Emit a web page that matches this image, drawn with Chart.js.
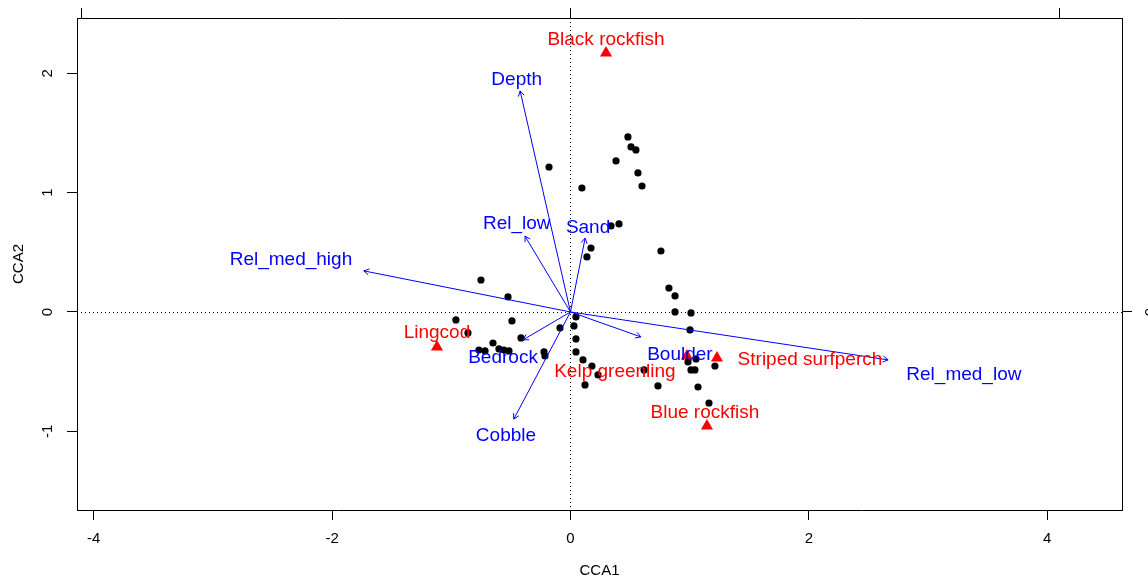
<!DOCTYPE html>
<html>
<head>
<meta charset="utf-8">
<script src="https://cdn.jsdelivr.net/npm/chart.js@4.4.1/dist/chart.umd.min.js"></script>
<style>
  html, body { margin: 0; padding: 0; background: #fff; }
  #wrap { width: 1148px; height: 578px; }
</style>
</head>
<body>
<div id="wrap"><canvas id="ccaChart"></canvas></div>
<script>
// site scores (CCA1, CCA2)
const sitesX = [-0.180, 0.482, 0.508, 0.549, 0.382, 0.566, 0.600, 0.096, 0.340, 0.407,
                0.172, 0.138, 0.759, 0.826, 0.877, 0.877, 1.011, 0.046, -0.751, -0.524,
                -0.491, -0.961, -0.860, -0.415, -0.650, -0.768, -0.717, -0.600, -0.558, -0.516,
                -0.222, -0.214, -0.088, 0.029, 0.046, 0.046, 0.105, 0.180, 0.231, 0.122,
                0.617, 0.734, 1.003, 0.986, 1.053, 1.011, 1.044, 1.212, 1.070, 1.162];
const sitesY = [1.215, 1.467, 1.383, 1.358, 1.266, 1.165, 1.056, 1.039, 0.721, 0.738,
                0.536, 0.461, 0.511, 0.201, 0.134, 0.000, -0.008, -0.042, 0.268, 0.126,
                -0.075, -0.067, -0.176, -0.218, -0.260, -0.319, -0.327, -0.310, -0.319, -0.327,
                -0.335, -0.369, -0.134, -0.117, -0.226, -0.335, -0.402, -0.453, -0.528, -0.612,
                -0.486, -0.620, -0.151, -0.419, -0.394, -0.486, -0.486, -0.453, -0.629, -0.763];

// species scores and where their names sit
const speciesNames = ['Black rockfish', 'Lingcod', 'Kelp greenling', 'Striped surfperch', 'Blue rockfish'];
const speciesX = [0.298, -1.120, 0.977, 1.229, 1.145];
const speciesY = [2.171, -0.293, -0.369, -0.386, -0.956];
const speciesLabelX = [0.298, -1.120, 0.373, 2.009, 1.128];
const speciesLabelY = [2.297, -0.159, -0.486, -0.386, -0.830];

// biplot arrows (environmental variables), in biplot units
const envNames = ['Depth', 'Rel_low', 'Sand', 'Rel_med_high', 'Rel_med_low', 'Boulder', 'Bedrock', 'Cobble'];
const envX = [-0.103, -0.093, 0.030, -0.423, 0.650, 0.144, -0.097, -0.116];
const envY = [0.452, 0.155, 0.151, 0.084, -0.098, -0.051, -0.057, -0.219];
const envLabelX = [-0.110, -0.110, 0.036, -0.572, 0.805, 0.224, -0.138, -0.132];
const envLabelY = [0.479, 0.184, 0.176, 0.110, -0.125, -0.084, -0.090, -0.250];

const xTicks = [-4, -2, 0, 2, 4];
const yTicks = [-1, 0, 1, 2];
const biplotTicks = [-1, 0, 1];

const xMin = -4.14, xMax = 4.627;
const yMin = -1.66, yMax = 2.464;
const arrowMul = 4.1;

Chart.defaults.font.family = '"Liberation Sans", Arial, sans-serif';
Chart.defaults.color = '#000';

function fixedTicks(list) {
    return function (scale) {
        scale.ticks = list.filter(v => v >= scale.min && v <= scale.max).map(v => ({ value: v }));
    };
}

function drawArrow(ctx, x0, y0, x1, y1, head) {
    const ang = Math.atan2(y1 - y0, x1 - x0);
    ctx.beginPath();
    ctx.moveTo(x0, y0);
    ctx.lineTo(x1, y1);
    ctx.moveTo(x1 - head * Math.cos(ang - Math.PI / 6), y1 - head * Math.sin(ang - Math.PI / 6));
    ctx.lineTo(x1, y1);
    ctx.lineTo(x1 - head * Math.cos(ang + Math.PI / 6), y1 - head * Math.sin(ang + Math.PI / 6));
    ctx.stroke();
}

const ccaOverlay = {
    id: 'ccaOverlay',
    beforeDatasetsDraw(chart) {
        const { ctx, chartArea: a, scales: { x, y } } = chart;
        const x0 = Math.round(x.getPixelForValue(0)) + 0.5;
        const y0 = Math.round(y.getPixelForValue(0)) + 0.5;
        ctx.save();
        ctx.strokeStyle = '#000';
        ctx.lineWidth = 1;
        ctx.setLineDash([1, 3]);
        ctx.beginPath();
        ctx.moveTo(x0, a.top);
        ctx.lineTo(x0, a.bottom);
        ctx.moveTo(a.left, y0);
        ctx.lineTo(a.right, y0);
        ctx.stroke();
        ctx.restore();
    },
    afterDatasetsDraw(chart) {
        const { ctx, scales: { x, y, x2, y2 } } = chart;
        ctx.save();
        // arrows
        ctx.strokeStyle = '#0000ff';
        ctx.lineWidth = 1;
        const ox = x2.getPixelForValue(0), oy = y2.getPixelForValue(0);
        envNames.forEach((n, i) => {
            drawArrow(ctx, ox, oy, x2.getPixelForValue(envX[i]), y2.getPixelForValue(envY[i]), 6);
        });
        // labels (nudged down a little so the glyphs centre on the anchor)
        ctx.font = '19px "Liberation Sans", Arial, sans-serif';
        ctx.textAlign = 'center';
        ctx.textBaseline = 'middle';
        ctx.fillStyle = '#0000ff';
        envNames.forEach((n, i) => {
            ctx.fillText(n, x2.getPixelForValue(envLabelX[i]), y2.getPixelForValue(envLabelY[i]) + 2);
        });
        ctx.fillStyle = '#ff0000';
        speciesNames.forEach((n, i) => {
            ctx.fillText(n, x.getPixelForValue(speciesLabelX[i]), y.getPixelForValue(speciesLabelY[i]) + 2);
        });
        ctx.restore();
    },
    afterDraw(chart) {
        // R-style vertical tick labels on left and right axes
        const { ctx, chartArea: a, scales: { y, y2 } } = chart;
        ctx.save();
        ctx.font = '15px "Liberation Sans", Arial, sans-serif';
        ctx.fillStyle = '#000';
        ctx.textAlign = 'center';
        ctx.textBaseline = 'middle';
        const put = (txt, px, py) => {
            ctx.save();
            ctx.translate(px, py);
            ctx.rotate(-Math.PI / 2);
            ctx.fillText(txt, 0, 0);
            ctx.restore();
        };
        y.ticks.forEach(t => put(String(t.value), a.left - 29, y.getPixelForValue(t.value)));
        y2.ticks.forEach(t => put(String(t.value), a.right + 29, y2.getPixelForValue(t.value)));
        ctx.restore();
    }
};

const axisGrid = { drawOnChartArea: false, drawTicks: true, tickLength: 10, color: '#000' };
const axisBorder = { display: true, color: '#000', width: 1 };

const ctx = document.getElementById('ccaChart').getContext('2d');
const ccaChart = new Chart(ctx, {
    type: 'scatter',
    data: {
        datasets: [{
            label: 'Sites',
            data: sitesX.map((v, i) => ({ x: v, y: sitesY[i] })),
            pointStyle: 'circle',
            pointRadius: 3.6,
            backgroundColor: '#000',
            borderWidth: 0
        }, {
            label: 'Species',
            data: speciesX.map((v, i) => ({ x: v, y: speciesY[i] })),
            pointStyle: 'triangle',
            pointRadius: 7,
            backgroundColor: '#ff0000',
            borderWidth: 0
        }]
    },
    options: {
        responsive: true,
        maintainAspectRatio: false,
        animation: false,
        events: [],
        layout: { padding: 0 },
        plugins: {
            legend: { display: false },
            tooltip: { enabled: false }
        },
        scales: {
            x: {
                type: 'linear',
                position: 'bottom',
                min: xMin,
                max: xMax,
                afterBuildTicks: fixedTicks(xTicks),
                afterFit: s => { s.height = 68; },
                grid: axisGrid,
                border: axisBorder,
                ticks: {
                    padding: 10,
                    font: { size: 15 },
                    callback: v => String(v)
                },
                title: {
                    display: true,
                    text: 'CCA1',
                    font: { size: 15, lineHeight: 1 },
                    padding: { top: 0, bottom: 0 }
                }
            },
            y: {
                type: 'linear',
                position: 'left',
                min: yMin,
                max: yMax,
                afterBuildTicks: fixedTicks(yTicks),
                afterFit: s => { s.width = 77; },
                grid: axisGrid,
                border: axisBorder,
                ticks: { display: false },
                title: {
                    display: true,
                    text: 'CCA2',
                    font: { size: 15, lineHeight: 1 },
                    padding: { top: 11, bottom: 0 }
                }
            },
            x2: {
                type: 'linear',
                position: 'top',
                min: xMin / arrowMul,
                max: xMax / arrowMul,
                afterBuildTicks: fixedTicks(biplotTicks),
                afterFit: s => { s.height = 18; },
                grid: axisGrid,
                border: axisBorder,
                ticks: { display: false }
            },
            y2: {
                type: 'linear',
                position: 'right',
                min: yMin / arrowMul,
                max: yMax / arrowMul,
                afterBuildTicks: fixedTicks(biplotTicks),
                afterFit: s => { s.width = 26; },
                grid: axisGrid,
                border: axisBorder,
                ticks: { display: false }
            }
        }
    },
    plugins: [ccaOverlay]
});
</script>
</body>
</html>
